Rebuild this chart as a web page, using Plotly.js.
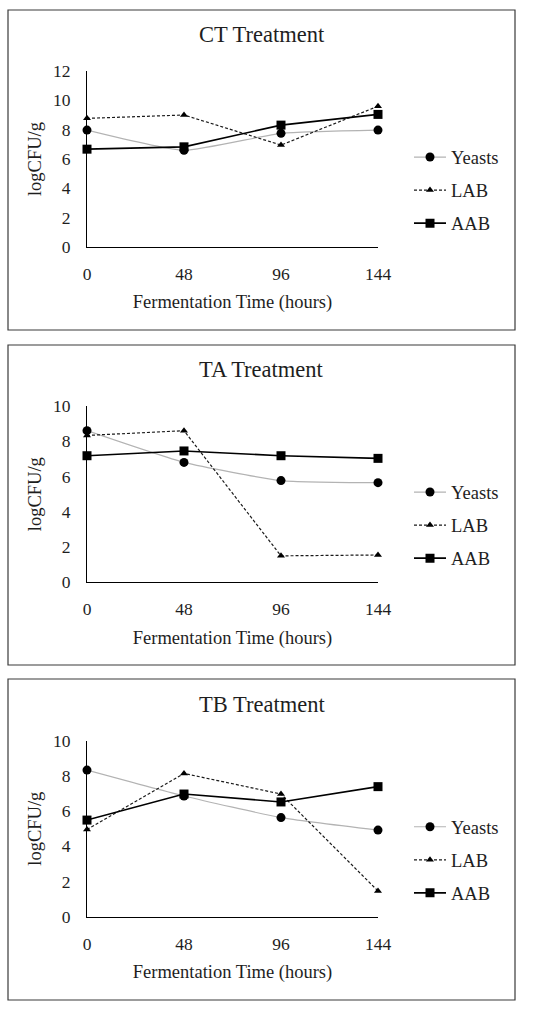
<!DOCTYPE html>
<html><head><meta charset="utf-8">
<script src="https://cdn.plot.ly/plotly-3.0.1.min.js"></script>
<style>body{margin:0;padding:0;background:#fff}#chart{width:550px;height:1009px}</style>
</head><body><div id="chart"></div>
<script>
const hours = [0, 48, 96, 144];
const seriesNames = ["Yeasts", "LAB", "AAB"];
const panelTitles = ["CT Treatment", "TA Treatment", "TB Treatment"];
const yTitle = "logCFU/g";
const xTitle = "Fermentation Time (hours)";

const ctYeasts = [7.97, 6.6, 7.75, 7.97];
const ctLAB    = [8.77, 9.0, 6.95, 9.6];
const ctAAB    = [6.67, 6.83, 8.31, 9.04];

const taYeasts = [8.6, 6.8, 5.77, 5.65];
const taLAB    = [8.33, 8.6, 1.5, 1.55];
const taAAB    = [7.18, 7.45, 7.18, 7.03];

const tbYeasts = [8.33, 6.86, 5.63, 4.92];
const tbLAB    = [4.96, 8.14, 6.97, 1.46];
const tbAAB    = [5.49, 6.97, 6.52, 7.39];

const yMax = [12, 10, 10];

const W = 550, H = 1009;
const FONT = "Liberation Serif, serif";
const TXT = "#1e1e1e";

const panels = [
  {data:[ctYeasts, ctLAB, ctAAB], top:71, bottom:247, box:[8,10,515,330]},
  {data:[taYeasts, taLAB, taAAB], top:406, bottom:582.3, box:[8,345,515,665]},
  {data:[tbYeasts, tbLAB, tbAAB], top:740.7, bottom:916.7, box:[8,679,515,1000]}
];

const styles = [
  {line:{color:"#b3b3b3", width:1.2, dash:"solid", shape:"spline", smoothing:0.5}, marker:{symbol:"circle", size:9, color:"#000"}},
  {line:{color:"#1a1a1a", width:1.2, dash:"3px,2px", shape:"linear"}, marker:{symbol:"triangle-up", size:7, color:"#000"}},
  {line:{color:"#000", width:1.6, dash:"solid", shape:"linear"}, marker:{symbol:"square", size:9, color:"#000"}}
];

const traces = [];
const layout = {
  width: W, height: H,
  margin:{l:0,r:0,t:0,b:0},
  paper_bgcolor:"#fff", plot_bgcolor:"rgba(0,0,0,0)",
  font:{family:FONT, color:TXT, size:17},
  shapes:[], annotations:[]
};

panels.forEach((p, i) => {
  const n = i === 0 ? "" : String(i+1);
  const xa = "x"+n, ya = "y"+n;
  const legName = "legend"+n;
  p.data.forEach((vals, j) => {
    traces.push({
      type:"scatter", mode:"lines+markers",
      x: hours, y: vals, name: seriesNames[j],
      xaxis: xa, yaxis: ya, legend: legName,
      legendgroup: "g"+i+"_"+j,
      line: styles[j].line, marker: styles[j].marker,
      cliponaxis:false
    });
  });
  const xd = [87/W, 378/W];
  const yd = [1 - p.bottom/H, 1 - p.top/H];
  layout["xaxis"+n] = {
    domain: xd, anchor: ya, range:[0,144], tickvals: hours, ticktext: hours.map(String),
    showgrid:false, zeroline:false, showline:true, linecolor:"#000", linewidth:1,
    ticks:"", ticklabelstandoff:11, tickfont:{size:17.5, family:FONT, color:TXT},
    title:{text:xTitle, font:{size:18.5, family:FONT, color:TXT}, standoff:12},
    fixedrange:true
  };
  layout["yaxis"+n] = {
    domain: yd, anchor: xa, range:[0, yMax[i]], dtick:2, tick0:0,
    showgrid:false, zeroline:false, showline:true, linecolor:"#000", linewidth:1,
    ticks:"", ticklabelstandoff:12, tickfont:{size:17.5, family:FONT, color:TXT},
    title:{text:yTitle, font:{size:18.5, family:FONT, color:TXT}, standoff:6},
    fixedrange:true
  };
  const legMid = p.top + 119.5;
  layout[legName] = {
    x: 409/W, xanchor:"left", y: 1 - legMid/H, yanchor:"middle",
    bgcolor:"rgba(0,0,0,0)", borderwidth:0,
    font:{size:18.5, family:FONT, color:TXT},
    tracegroupgap: 6, itemwidth:32, traceorder:"grouped"
  };
  const b = p.box;
  layout.shapes.push({type:"rect", xref:"paper", yref:"paper",
    x0:b[0]/W, x1:b[2]/W, y0:1-b[3]/H, y1:1-b[1]/H,
    line:{color:"#3a3a3a", width:1.2}, fillcolor:"rgba(0,0,0,0)", layer:"below"});
  layout.annotations.push({xref:"paper", yref:"paper", x:261.5/W, y:1-(b[1]+25)/H,
    xanchor:"center", yanchor:"middle", showarrow:false, text:panelTitles[i],
    font:{size:22.5, family:FONT, color:TXT}});
});

Plotly.newPlot("chart", traces, layout, {displayModeBar:false, staticPlot:true});
</script>
</body></html>
